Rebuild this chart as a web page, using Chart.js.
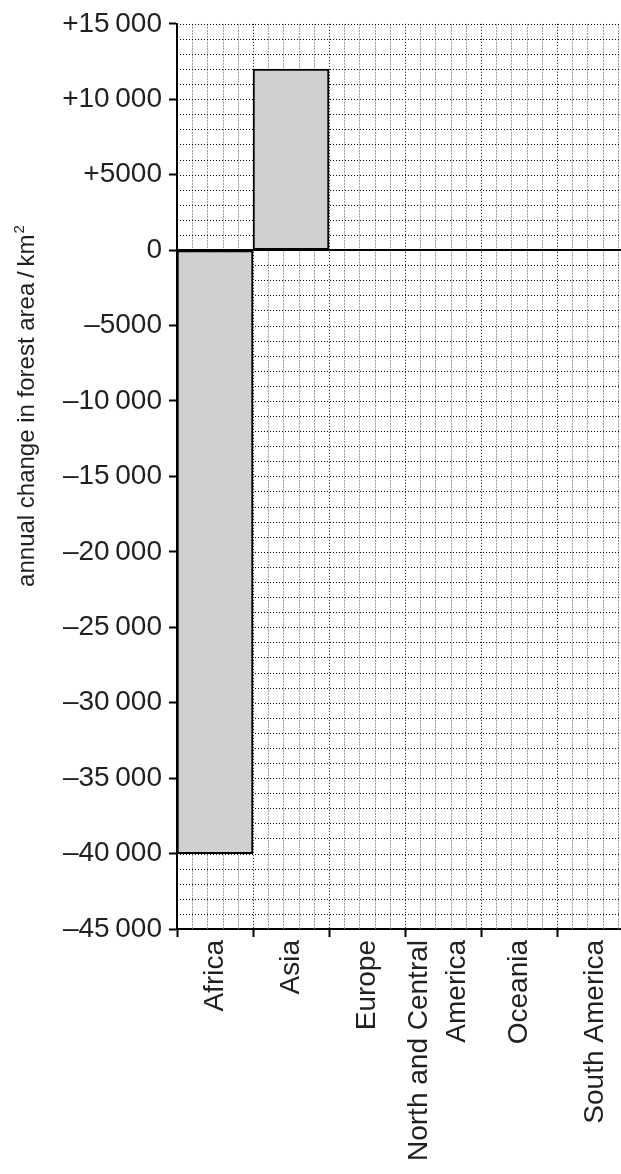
<!DOCTYPE html>
<html lang="en">
<head>
<meta charset="UTF-8">
<title>Annual change in forest area</title>
<script src="https://cdn.jsdelivr.net/npm/chart.js"></script>
<style>
  body { margin: 0; background: #fff; }
  #wrap { width: 621px; height: 1174px; overflow: hidden; }
</style>
</head>
<body>
<div id="wrap"><canvas id="forestChart" width="640" height="1174"></canvas></div>
<script>
// data (only Africa and Asia are plotted)
const regions = ['Africa', 'Asia', 'Europe', ['North and Central', 'America'], 'Oceania', 'South America'];
const forestChange = [-40000, 12000, null, null, null, null];

const yTickValues = [15000, 10000, 5000, 0, -5000, -10000, -15000, -20000, -25000, -30000, -35000, -40000, -45000];
const yTickLabels = ['+15\u2009000', '+10\u2009000', '+5000', '0', '\u20135000', '\u201310\u2009000', '\u201315\u2009000',
  '\u201320\u2009000', '\u201325\u2009000', '\u201330\u2009000', '\u201335\u2009000', '\u201340\u2009000', '\u201345\u2009000'];
const yTitle = 'annual change in forest area\u2009/\u2009km';
const yTitleSup = '2';

const yMin = -45000, yMax = 15000, yMinorStep = 1000, xMinorPerRegion = 5;
const FONT = '"Liberation Sans", Arial, Helvetica, sans-serif';
const INK = '#231f20';

function strokeLine(ctx, x1, y1, x2, y2) {
  ctx.beginPath();
  ctx.moveTo(x1, y1);
  ctx.lineTo(x2, y2);
  ctx.stroke();
}

// dotted graph paper behind the bars, zero line, rotated labels
const graphPaper = {
  id: 'graphPaper',
  beforeDatasetsDraw(chart) {
    const { ctx, chartArea: a, scales: { x, y } } = chart;
    ctx.save();
    ctx.lineWidth = 1;
    const w = x.getPixelForValue(1) - x.getPixelForValue(0);
    // vertical lines: grey minor, black at region boundaries
    for (let i = 0; i <= regions.length * xMinorPerRegion; i++) {
      const px = Math.round(x.getPixelForValue(0) - w / 2 + i * w / xMinorPerRegion) + 0.5;
      const major = i % xMinorPerRegion === 0;
      ctx.strokeStyle = major ? '#000' : '#9a9a9a';
      ctx.setLineDash(major ? [1, 2] : [2, 1]);
      strokeLine(ctx, px, a.top, px, a.bottom);
    }
    // horizontal lines every 1000
    ctx.strokeStyle = '#000';
    ctx.setLineDash([1, 2]);
    for (let v = yMin; v <= yMax; v += yMinorStep) {
      const py = Math.round(y.getPixelForValue(v)) + 0.5;
      strokeLine(ctx, a.left, py, a.right, py);
    }
    ctx.restore();
  },
  afterDatasetsDraw(chart) {
    const { ctx, chartArea: a, scales: { y } } = chart;
    ctx.save();
    ctx.strokeStyle = '#000';
    ctx.lineWidth = 2;
    const py = Math.round(y.getPixelForValue(0));
    strokeLine(ctx, a.left, py, a.right, py);
    ctx.restore();
  },
  afterDraw(chart) {
    const { ctx, scales: { x } } = chart;
    ctx.save();
    ctx.fillStyle = INK;

    // category labels, read bottom-to-top, ending under the axis
    ctx.font = '28px ' + FONT;
    ctx.textAlign = 'right';
    ctx.textBaseline = 'middle';
    const labelTop = x.top + 11;
    regions.forEach((r, i) => {
      const lines = Array.isArray(r) ? r : [r];
      const cx = x.getPixelForValue(i) - (lines.length > 1 ? 5 : 0);
      lines.forEach((line, j) => {
        ctx.save();
        ctx.translate(cx + (j - (lines.length - 1) / 2) * 38, labelTop);
        ctx.rotate(-Math.PI / 2);
        ctx.fillText(line, 0, 0);
        ctx.restore();
      });
    });

    // y axis title with superscript
    ctx.translate(34, 406);
    ctx.rotate(-Math.PI / 2);
    ctx.textBaseline = 'alphabetic';
    ctx.textAlign = 'left';
    ctx.font = '24px ' + FONT;
    const mainW = ctx.measureText(yTitle).width;
    ctx.font = '15px ' + FONT;
    const supW = ctx.measureText(yTitleSup).width;
    const start = -(mainW + supW + 1) / 2;
    ctx.font = '24px ' + FONT;
    ctx.fillText(yTitle, start, 0);
    ctx.font = '15px ' + FONT;
    ctx.fillText(yTitleSup, start + mainW + 1, -10);
    ctx.restore();
  }
};

new Chart(document.getElementById('forestChart'), {
  type: 'bar',
  data: {
    labels: regions,
    datasets: [{
      data: forestChange,
      backgroundColor: '#d0d0d0',
      borderColor: '#000',
      borderWidth: 2,
      borderSkipped: false,
      categoryPercentage: 1,
      barPercentage: 1
    }]
  },
  options: {
    responsive: false,
    animation: false,
    devicePixelRatio: 1,
    layout: { padding: { top: 22, right: 7, left: 0, bottom: 0 } },
    plugins: { legend: { display: false }, tooltip: { enabled: false } },
    scales: {
      x: {
        afterFit(scale) { scale.height = 245; },
        border: { color: '#000', width: 2 },
        grid: { offset: true, color: 'transparent', tickColor: '#000', tickLength: 8, tickWidth: 2 },
        ticks: { display: false }
      },
      y: {
        min: yMin, max: yMax,
        afterFit(scale) { scale.width = 177; },
        border: { color: '#000', width: 2 },
        grid: { color: 'transparent', tickColor: '#000', tickLength: 8, tickWidth: 2 },
        ticks: {
          stepSize: 5000, padding: 7, color: INK, font: { family: FONT, size: 28 },
          callback: v => {
            const i = yTickValues.indexOf(v);
            return i >= 0 ? yTickLabels[i] : '';
          }
        }
      }
    }
  },
  plugins: [graphPaper]
});
</script>
</body>
</html>
